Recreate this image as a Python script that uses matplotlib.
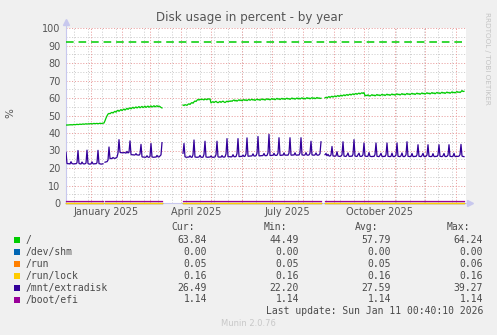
import matplotlib
matplotlib.use('Agg')
import matplotlib.pyplot as plt
from matplotlib.patches import Rectangle
import numpy as np

# days counted from the left edge of the graph (2024-12-07), 400 days shown
start = np.datetime64('2024-12-07')

root_a_start = 0
root_a = [44.49, 44.6, 44.5, 44.7, 44.6, 44.8, 44.6, 44.7, 44.9, 44.7, 44.8, 45.0, 44.8, 44.9,
          45.1, 44.9, 45.0, 45.2, 45.0, 45.1, 45.3, 45.1, 45.2, 45.3, 45.2, 45.4, 45.2, 45.3,
          45.5, 45.3, 45.4, 45.5, 45.3, 45.4, 45.6, 45.4, 45.5, 45.6, 45.7, 47.0, 48.5, 49.8,
          50.8, 51.2, 51.0, 51.5, 51.8, 51.4, 52.0, 52.4, 51.9, 52.6, 53.0, 52.4, 52.9, 53.4,
          52.8, 53.3, 53.7, 53.1, 53.6, 54.1, 53.5, 54.0, 54.4, 53.8, 54.3, 54.7, 54.1, 54.5,
          54.9, 54.3, 54.7, 55.1, 54.4, 54.8, 55.2, 54.5, 54.9, 55.3, 54.6, 55.0, 55.4, 54.7,
          55.1, 55.5, 54.8, 55.2, 55.6, 54.9, 55.3, 55.6, 55.0, 55.4, 55.1, 54.6, 54.3]
root_c_start = 117
root_c = [56.0, 55.7, 56.2, 56.0, 55.8, 56.4, 56.7, 56.3, 57.0, 57.4, 57.0, 57.8, 58.3, 58.0,
          58.7, 59.2, 58.8, 59.3, 59.0, 59.4, 59.1, 58.9, 59.5, 59.2, 59.0, 59.6, 59.3, 59.5,
          57.2, 57.6, 57.9, 57.4, 57.8, 58.1, 57.6, 57.3, 57.7, 58.0, 57.5, 57.9, 58.2, 57.7,
          57.4, 57.8, 58.2, 57.8, 58.3, 58.0, 58.4, 58.1, 58.6, 58.9, 58.3, 58.7, 58.2, 58.6,
          59.0, 58.5, 58.9, 58.4, 58.8, 59.1, 58.6, 59.0, 58.5, 58.9, 59.2, 58.7, 59.0, 59.3,
          58.8, 59.1, 58.6, 59.0, 59.4, 58.9, 59.2, 58.7, 59.1, 59.5, 59.0, 59.3, 58.8, 59.2,
          59.6, 59.1, 59.4, 58.9, 59.3, 59.7, 59.2, 59.5, 59.0, 59.4, 59.8, 59.3, 59.6, 59.1,
          59.5, 59.8, 59.3, 59.7, 59.2, 59.6, 59.9, 59.4, 59.7, 59.2, 59.6, 60.0, 59.5, 59.8,
          59.3, 59.7, 60.0, 59.5, 59.9, 59.4, 59.8, 60.1, 59.6, 59.9, 59.4, 59.8, 60.2, 59.7,
          60.0, 59.5, 59.9, 60.2, 59.7, 60.1, 59.6, 59.9, 60.3, 59.8, 60.1, 59.7, 59.9]
root_d_start = 259
root_d = [60.1, 60.4, 60.0, 60.5, 60.8, 60.3, 60.7, 61.0, 60.5, 60.9, 61.2, 60.7, 61.1, 61.4,
          60.9, 61.3, 61.6, 61.1, 61.5, 61.8, 61.3, 61.7, 62.0, 61.5, 61.9, 62.2, 61.7, 62.1,
          62.4, 61.9, 62.3, 62.6, 62.1, 62.5, 62.8, 62.3, 62.7, 63.0, 62.6, 63.1,
          61.2, 61.6, 61.3, 61.8, 61.4, 61.1, 61.5, 61.9, 61.4, 61.7, 61.2, 61.6, 62.0, 61.5,
          61.8, 61.3, 61.7, 62.1, 61.6, 61.9, 61.4, 61.8, 62.2, 61.7, 62.0, 61.5, 61.9, 62.3,
          61.8, 62.1, 61.6, 62.0, 62.4, 61.9, 62.2, 61.7, 62.1, 62.5, 62.0, 62.3, 61.8, 62.2,
          62.6, 62.1, 62.4, 61.9, 62.3, 62.7, 62.2, 62.5, 62.0, 62.4, 62.8, 62.3, 62.6, 62.1,
          62.5, 62.9, 62.4, 62.7, 62.2, 62.6, 63.0, 62.5, 62.8, 62.3, 62.7, 63.1, 62.6, 62.9,
          62.4, 62.8, 63.2, 62.7, 63.0, 62.5, 62.9, 63.3, 62.8, 63.1, 62.6, 63.0, 63.4, 62.9,
          63.2, 62.7, 63.1, 63.5, 63.0, 63.3, 62.9, 63.3, 63.7, 63.2, 63.5, 63.1, 63.6, 64.24,
          63.7, 63.84]

extra_a_start = 0
extra_a = [29.0, 22.6, 22.4, 22.5, 22.3, 23.6, 22.5, 22.4, 22.3, 22.5, 22.4, 23.0, 30.0, 22.6,
           22.4, 22.3, 23.4, 22.5, 22.3, 22.4, 22.8, 30.2, 22.5, 22.3, 22.2, 22.4, 23.5, 22.4,
           22.3, 22.5, 22.4, 23.0, 30.1, 22.5, 22.4, 22.20, 22.3, 22.4]
extra_b_start = 39
extra_b = [23.3, 23.5, 23.6, 24.5, 32.0, 25.3, 25.5, 25.4, 26.0, 25.6, 25.5, 25.8, 26.2, 28.5,
           36.2, 29.0, 28.7, 28.8, 28.6, 28.9, 28.7, 28.5, 29.5, 28.6, 29.0, 35.5, 27.8, 27.5,
           27.6, 27.4, 27.5, 28.2, 27.4, 27.5, 27.3, 28.0, 33.5, 26.4, 26.2, 26.3, 26.1, 26.2,
           27.0, 26.2, 26.1, 26.6, 34.0, 26.3, 26.2, 26.1, 26.3, 26.2, 27.2, 26.4, 26.3, 26.9,
           27.5, 34.5]
extra_c_start = 117
extra_c = [28.4, 34.0, 26.4, 26.2, 26.1, 26.3, 26.2, 27.0, 26.2, 26.1, 27.5, 36.0, 26.3, 26.2,
           26.1, 26.2, 26.3, 27.2, 26.2, 26.1, 26.2, 27.8, 35.3, 26.3, 26.2, 26.1, 26.3, 26.2,
           26.9, 26.2, 26.1, 26.2, 26.3, 27.6, 35.3, 26.4, 26.2, 26.3, 26.2, 27.1, 26.3, 26.2,
           26.4, 28.0, 36.8, 26.5, 26.4, 26.5, 26.3, 26.5, 27.6, 26.5, 26.4, 26.6, 28.2, 36.8,
           26.6, 26.5, 26.7, 26.6, 27.4, 26.6, 26.7, 28.0, 37.2, 26.8, 26.7, 26.9, 26.8, 27.0,
           28.1, 26.9, 26.8, 27.0, 28.4, 38.0, 27.0, 26.9, 27.1, 27.0, 27.2, 28.3, 27.1, 27.0,
           27.2, 28.6, 39.27, 27.2, 27.1, 27.3, 27.2, 28.4, 27.3, 27.2, 27.3, 28.5, 37.3, 27.3,
           27.2, 27.4, 27.3, 28.6, 27.4, 27.3, 27.4, 27.3, 28.5, 37.3, 27.4, 27.3, 27.5, 27.4,
           28.7, 27.4, 27.3, 27.5, 27.4, 28.6, 37.3, 27.5, 27.4, 27.3, 27.5, 28.8, 27.4, 27.3,
           27.5, 28.4, 35.3, 27.5, 27.4, 27.3, 27.5, 28.6, 27.4, 27.3, 27.5, 28.2, 35.0]
extra_d_start = 259
extra_d = [27.6, 28.3, 27.0, 27.8, 26.9, 26.8, 27.5, 32.3, 26.9, 26.8, 26.7, 27.0, 29.3, 26.8,
           26.7, 26.6, 26.8, 27.6, 35.0, 26.8, 26.7, 26.6, 27.3, 28.6, 26.7, 26.6, 26.8, 26.7,
           27.8, 36.2, 26.8, 26.7, 26.6, 27.5, 28.5, 26.7, 26.6, 26.8, 27.6, 34.3, 26.8, 26.7,
           26.6, 26.8, 28.8, 26.7, 26.6, 26.5, 26.7, 26.6, 27.7, 34.3, 26.7, 26.6, 26.5, 27.2,
           28.4, 26.6, 26.5, 26.7, 26.6, 27.6, 34.3, 26.7, 26.6, 26.5, 26.7, 28.5, 26.6, 26.5,
           26.7, 27.5, 34.3, 26.7, 26.6, 26.5, 27.0, 28.6, 26.6, 26.5, 26.7, 27.6, 35.0, 26.7,
           26.6, 26.5, 26.7, 28.3, 26.6, 26.5, 26.7, 26.6, 27.5, 33.3, 26.7, 26.6, 26.5, 27.1,
           28.4, 26.6, 26.5, 26.7, 27.4, 33.3, 26.7, 26.6, 26.5, 26.7, 28.2, 26.6, 26.5, 26.7,
           26.6, 27.5, 33.3, 26.7, 26.6, 26.5, 27.0, 28.3, 26.6, 26.5, 26.7, 27.4, 33.3, 26.7,
           26.6, 26.5, 26.7, 28.4, 26.6, 26.5, 26.7, 26.6, 26.8, 27.6, 33.5, 26.8, 26.6, 26.49]

# flat series, sampled in the same stretches of time as the data above
flat_spans = [(0, 37), (39, 96), (117, 255), (259, 398)]
shm_value = 0.00
run_value = 0.05
lock_value = 0.16
efi_value = 1.14
warning_level = 92

labels = ['/', '/dev/shm', '/run', '/run/lock', '/mnt/extradisk', '/boot/efi']
colors = ['#00cc00', '#0066b3', '#ff8000', '#ffcc00', '#330099', '#990099']
cur = ['63.84', '0.00', '0.05', '0.16', '26.49', '1.14']
vmin = ['44.49', '0.00', '0.05', '0.16', '22.20', '1.14']
avg = ['57.79', '0.00', '0.05', '0.16', '27.59', '1.14']
vmax = ['64.24', '0.00', '0.06', '0.16', '39.27', '1.14']

month_labels = ['January 2025', 'April 2025', 'July 2025', 'October 2025']
month_label_days = ['2025-01-16', '2025-04-16', '2025-07-16', '2025-10-16']

W, H = 497, 335
fig = plt.figure(figsize=(W / 100, H / 100), dpi=100, facecolor='#f0f0f0')
ax = fig.add_axes([66 / W, 1 - 203 / H, 400 / W, 175 / H], facecolor='white')


def day(d):
    return start + np.timedelta64(int(d), 'D')


def days_for(s, n):
    return start + np.arange(s, s + n).astype('timedelta64[D]')


# grid, rrdtool style dotted
dot = (0, (1, 1.8))
for v in range(5, 100, 10):
    ax.axhline(v, color='#cccccc', lw=0.72, ls=dot, zorder=1)
for v in range(10, 101, 10):
    ax.axhline(v, color='#e89a9a', lw=0.72, ls=dot, zorder=1)
d = np.datetime64('2024-12-15')
while d < day(400):
    ax.axvline(d, color='#cccccc', lw=0.72, ls=dot, zorder=1)
    d = d + np.timedelta64(14, 'D')
for m in np.arange(np.datetime64('2025-01'), np.datetime64('2026-02'), np.timedelta64(1, 'M')):
    ax.axvline(m.astype('datetime64[D]'), color='#e89a9a', lw=0.72, ls=dot, zorder=1)

lw = 0.9
# flat ones first, at the bottom
for val, c in [(shm_value, colors[1]), (run_value, colors[2]), (lock_value, colors[3]), (efi_value, colors[5])]:
    for a, b in flat_spans:
        ax.plot([day(a), day(b)], [val, val], color=c, lw=lw, zorder=3, clip_on=False)

for s, vals in [(extra_a_start, extra_a), (extra_b_start, extra_b), (extra_c_start, extra_c), (extra_d_start, extra_d)]:
    ax.plot(days_for(s, len(vals)), vals, color=colors[4], lw=lw, zorder=4)

for s, vals in [(root_a_start, root_a), (root_c_start, root_c), (root_d_start, root_d)]:
    ax.plot(days_for(s, len(vals)), vals, color=colors[0], lw=lw, zorder=5)

ax.plot([day(0), day(396)], [warning_level, warning_level], color=colors[0], lw=1.1,
        ls=(0, (5, 3.2)), zorder=5)

ax.set_xlim(day(0), day(400))
ax.set_ylim(0, 100)
ax.set_yticks(range(0, 101, 10))
ax.set_xticks([np.datetime64(x) for x in month_label_days])
ax.set_xticklabels(month_labels)
ax.tick_params(length=0, labelsize=7, colors='#555555')
ax.tick_params(axis='y', pad=4)
ax.tick_params(axis='x', pad=3)
for sp in ax.spines.values():
    sp.set_visible(False)
axis_c = '#c8c8ee'
ax.plot([0], [1.035], marker='^', ms=4, color=axis_c, transform=ax.transAxes, clip_on=False)
ax.plot([1.01], [0], marker='>', ms=4, color=axis_c, transform=ax.transAxes, clip_on=False)
ax.plot([0, 1.01], [0, 0], color=axis_c, lw=0.8, transform=ax.transAxes, clip_on=False, zorder=2)
ax.plot([0, 0], [0, 1.035], color=axis_c, lw=0.8, transform=ax.transAxes, clip_on=False, zorder=2)


def fx(px):
    return px / W


def fy(py):
    return 1 - py / H


fig.text(fx(249), fy(18), 'Disk usage in percent - by year', ha='center', va='center',
         fontsize=8.6, color='#555555')
fig.text(fx(10), fy(113), '%', rotation=90, ha='center', va='center', fontsize=7.5, color='#555555')
fig.text(fx(487), fy(58), 'RRDTOOL / TOBI OETIKER', rotation=270, ha='center', va='center',
         fontsize=5.2, color='#c4c4c4')

mono = dict(family='DejaVu Sans Mono', fontsize=7, color='#4a4a4a', va='center')
fig.text(fx(195), fy(227), 'Cur:', ha='right', **mono)
fig.text(fx(287), fy(227), 'Min:', ha='right', **mono)
fig.text(fx(378), fy(227), 'Avg:', ha='right', **mono)
fig.text(fx(470), fy(227), 'Max:', ha='right', **mono)
for i in range(len(labels)):
    yy = 240 + i * 11.9
    fig.add_artist(Rectangle((fx(14), fy(yy + 3)), 6 / W, 6 / H, transform=fig.transFigure,
                             facecolor=colors[i], edgecolor='none'))
    fig.text(fx(26), fy(yy), labels[i], ha='left', **mono)
    fig.text(fx(207), fy(yy), cur[i], ha='right', **mono)
    fig.text(fx(299), fy(yy), vmin[i], ha='right', **mono)
    fig.text(fx(391), fy(yy), avg[i], ha='right', **mono)
    fig.text(fx(483), fy(yy), vmax[i], ha='right', **mono)
fig.text(fx(483), fy(311), 'Last update: Sun Jan 11 00:40:10 2026', ha='right', **mono)
fig.text(fx(248), fy(324), 'Munin 2.0.76', ha='center', va='center', fontsize=6, color='#c8c8c8')

fig.savefig('out.png', dpi=100, facecolor=fig.get_facecolor())
